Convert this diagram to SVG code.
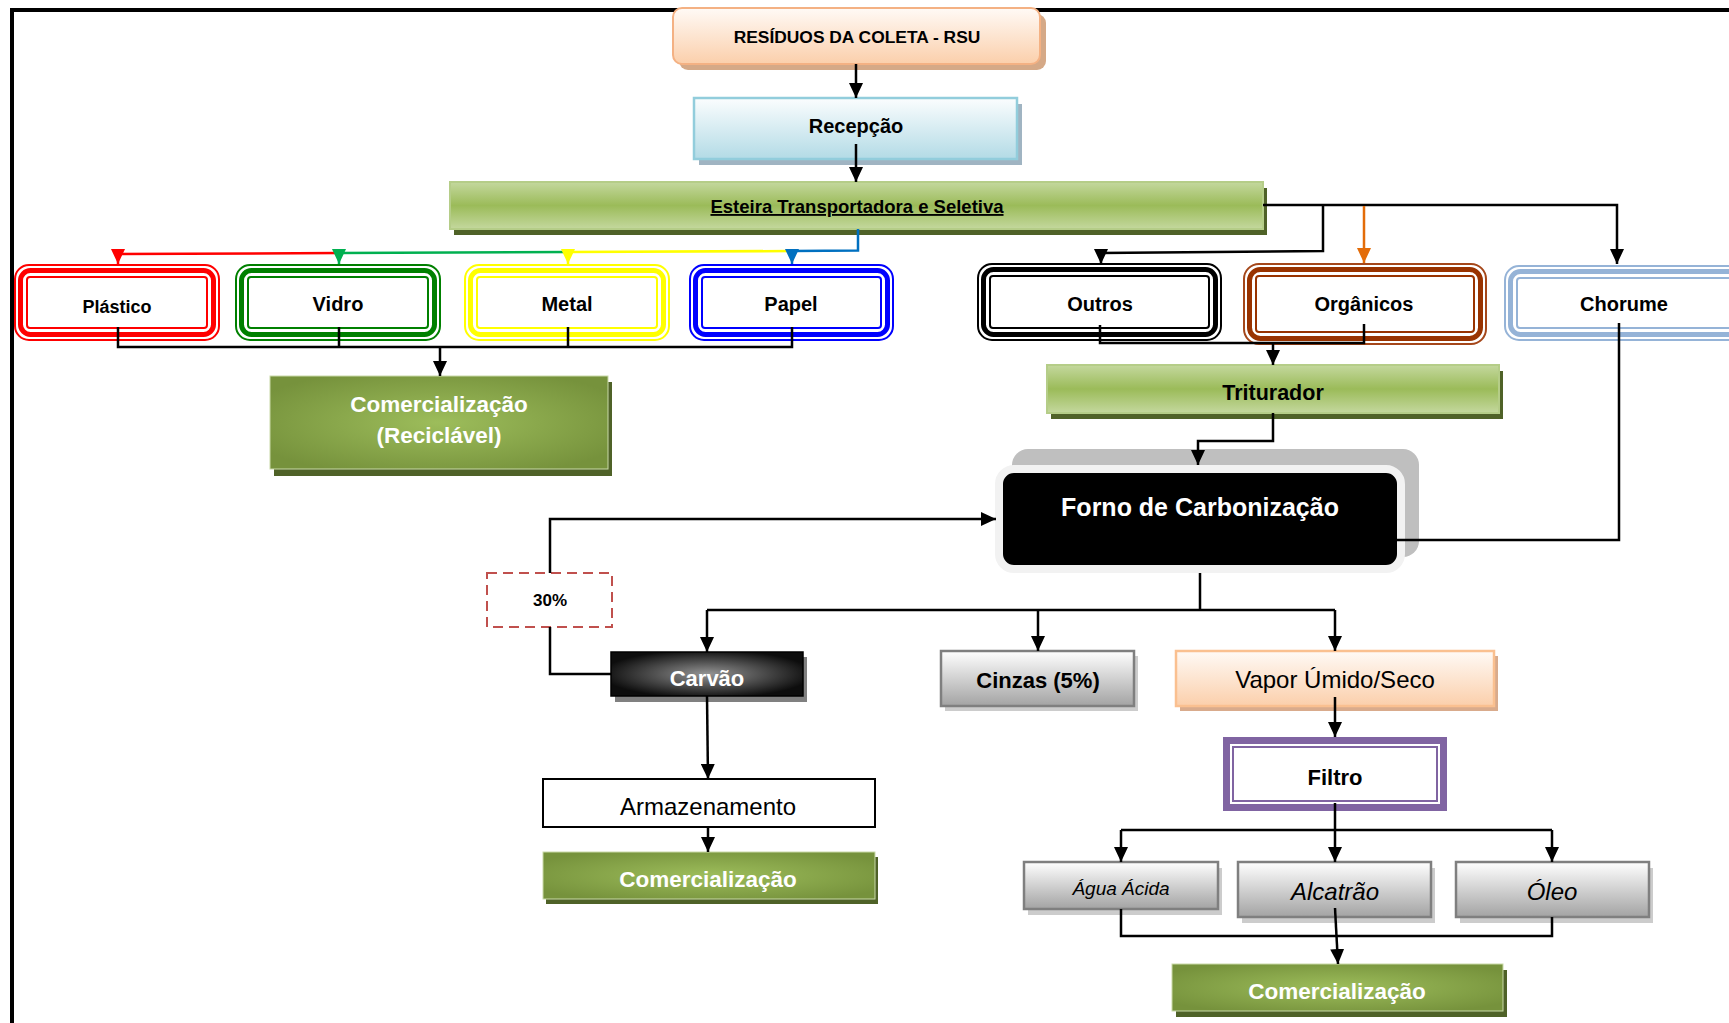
<svg xmlns="http://www.w3.org/2000/svg" width="1729" height="1023" viewBox="0 0 1729 1023">
<style>
text{font-family:"Liberation Sans",Arial,sans-serif;text-anchor:middle;fill:#000}
.b{font-weight:bold}
.w{fill:#fff;font-weight:bold}
.i{font-style:italic}
.ln{fill:none;stroke:#000;stroke-width:2.5}
.arr{fill:none;stroke:#000;stroke-width:2.5;marker-end:url(#ah)}
.grn{fill:url(#gGreen);stroke:#b5cd88;stroke-width:2}
.olv{fill:url(#gOlive);stroke:#c9d9a8;stroke-width:1}
.sh{fill:#4f6228}
.gry{fill:url(#gGray);stroke:#7f7f7f;stroke-width:2.5}
.gsh{fill:#cccccc}
</style>
<defs>
<marker id="ah" viewBox="0 0 15 14" refX="15" refY="7" markerWidth="15" markerHeight="14" markerUnits="userSpaceOnUse" orient="auto"><path d="M0,0 L15,7 L0,14 z" fill="#000"/></marker>
<marker id="ahR" viewBox="0 0 15 14" refX="15" refY="7" markerWidth="15" markerHeight="14" markerUnits="userSpaceOnUse" orient="auto"><path d="M0,0 L15,7 L0,14 z" fill="#ff0000"/></marker>
<marker id="ahG" viewBox="0 0 15 14" refX="15" refY="7" markerWidth="15" markerHeight="14" markerUnits="userSpaceOnUse" orient="auto"><path d="M0,0 L15,7 L0,14 z" fill="#00b050"/></marker>
<marker id="ahY" viewBox="0 0 15 14" refX="15" refY="7" markerWidth="15" markerHeight="14" markerUnits="userSpaceOnUse" orient="auto"><path d="M0,0 L15,7 L0,14 z" fill="#ffff00"/></marker>
<marker id="ahB" viewBox="0 0 15 14" refX="15" refY="7" markerWidth="15" markerHeight="14" markerUnits="userSpaceOnUse" orient="auto"><path d="M0,0 L15,7 L0,14 z" fill="#0070c0"/></marker>
<marker id="ahO" viewBox="0 0 15 14" refX="15" refY="7" markerWidth="15" markerHeight="14" markerUnits="userSpaceOnUse" orient="auto"><path d="M0,0 L15,7 L0,14 z" fill="#e36c09"/></marker>
<linearGradient id="gPeach" x1="0" y1="0" x2="0" y2="1"><stop offset="0" stop-color="#fffaf6"/><stop offset="1" stop-color="#fbcfab"/></linearGradient>
<linearGradient id="gBlue" x1="0" y1="0" x2="0" y2="1"><stop offset="0" stop-color="#fbfdfe"/><stop offset="1" stop-color="#b3dbe6"/></linearGradient>
<linearGradient id="gGreen" x1="0" y1="0" x2="0" y2="1"><stop offset="0" stop-color="#c4d89e"/><stop offset="0.5" stop-color="#9bbb59"/><stop offset="1" stop-color="#c4d89e"/></linearGradient>
<radialGradient id="gOlive" cx="0.5" cy="0.5" r="0.6"><stop offset="0" stop-color="#9dbd5b"/><stop offset="1" stop-color="#76923c"/></radialGradient>
<linearGradient id="gGray" x1="0" y1="0" x2="0" y2="1"><stop offset="0" stop-color="#ffffff"/><stop offset="1" stop-color="#a3a3a3"/></linearGradient>
<radialGradient id="gCoal" cx="0.5" cy="0.5" r="0.55"><stop offset="0" stop-color="#949494"/><stop offset="1" stop-color="#0d0d0d"/></radialGradient>
</defs>

<g id="frame"><path d="M12,1023 V10 H1729" fill="none" stroke="#000" stroke-width="4"/></g>

<g id="rsu">
<rect x="679" y="14" width="367" height="56" rx="9" fill="#d5a987"/>
<rect x="673" y="8" width="367" height="56" rx="9" fill="url(#gPeach)" stroke="#f4b183" stroke-width="2"/>
<text x="857" y="43" class="b" font-size="17.4">RESÍDUOS DA COLETA - RSU</text>
</g>

<g id="recepcao">
<rect x="699" y="104" width="323" height="61" fill="#a0b4c2"/>
<rect x="694" y="98" width="323" height="61" fill="url(#gBlue)" stroke="#92cddc" stroke-width="2.5"/>
<text x="856" y="133" class="b" font-size="20">Recepção</text>
</g>

<g id="esteira">
<rect x="454" y="188" width="813" height="47" class="sh"/>
<rect x="450" y="182" width="813" height="47" class="grn"/>
<text x="857" y="213" class="b" font-size="18.5" text-decoration="underline">Esteira Transportadora e Seletiva</text>
</g>

<g id="plastico">
<rect x="15" y="265" width="204" height="75" rx="14" fill="#fff" stroke="#ff0000" stroke-width="2"/>
<rect x="20.5" y="270.5" width="193" height="64" rx="10" fill="none" stroke="#ff0000" stroke-width="5"/>
<rect x="27" y="277" width="180" height="51" rx="3" fill="#fff" stroke="#ff0000" stroke-width="2"/>
<text x="117" y="313" class="b" font-size="18">Plástico</text>
</g>

<g id="vidro">
<rect x="236" y="265" width="204" height="75" rx="14" fill="#fff" stroke="#008000" stroke-width="2"/>
<rect x="241.5" y="270.5" width="193" height="64" rx="10" fill="none" stroke="#008000" stroke-width="5"/>
<rect x="248" y="277" width="180" height="51" rx="3" fill="#fff" stroke="#008000" stroke-width="2"/>
<text x="338" y="311" class="b" font-size="20">Vidro</text>
</g>

<g id="metal">
<rect x="465" y="265" width="204" height="75" rx="14" fill="#fff" stroke="#ffff00" stroke-width="2"/>
<rect x="470.5" y="270.5" width="193" height="64" rx="10" fill="none" stroke="#ffff00" stroke-width="5"/>
<rect x="477" y="277" width="180" height="51" rx="3" fill="#fff" stroke="#ffff00" stroke-width="2"/>
<text x="567" y="311" class="b" font-size="20">Metal</text>
</g>

<g id="papel">
<rect x="690" y="265" width="203" height="75" rx="14" fill="#fff" stroke="#0000ff" stroke-width="2"/>
<rect x="695.5" y="270.5" width="192" height="64" rx="10" fill="none" stroke="#0000ff" stroke-width="5"/>
<rect x="702" y="277" width="179" height="51" rx="3" fill="#fff" stroke="#0000ff" stroke-width="2"/>
<text x="791" y="311" class="b" font-size="20">Papel</text>
</g>

<g id="comercializacao-reciclavel">
<rect x="274" y="382" width="338" height="94" class="sh"/>
<rect x="270" y="376" width="338" height="93" class="olv"/>
<text x="439" y="412" class="w" font-size="22.5">Comercialização</text>
<text x="439" y="443" class="w" font-size="22.5">(Reciclável)</text>
</g>

<g id="outros">
<rect x="978" y="264" width="243" height="76" rx="14" fill="#fff" stroke="#000" stroke-width="2"/>
<rect x="983.5" y="269.5" width="232" height="65" rx="10" fill="none" stroke="#000" stroke-width="5"/>
<rect x="990" y="276" width="219" height="52" rx="3" fill="#fff" stroke="#000" stroke-width="2"/>
<text x="1100" y="311" class="b" font-size="20">Outros</text>
</g>

<g id="organicos">
<rect x="1244" y="264" width="242" height="80" rx="15" fill="#fff" stroke="#a5471a" stroke-width="2"/>
<rect x="1249.5" y="269.5" width="231" height="69" rx="11" fill="none" stroke="#993300" stroke-width="5"/>
<rect x="1256" y="276" width="218" height="56" rx="3" fill="#fff" stroke="#993300" stroke-width="2"/>
<text x="1364" y="311" class="b" font-size="20">Orgânicos</text>
</g>

<g id="chorume">
<rect x="1505" y="266" width="240" height="74" rx="14" fill="#fff" stroke="#95b3d7" stroke-width="2"/>
<rect x="1510.5" y="271.5" width="229" height="63" rx="10" fill="none" stroke="#95b3d7" stroke-width="5"/>
<rect x="1517" y="278" width="216" height="50" rx="3" fill="#fff" stroke="#95b3d7" stroke-width="2"/>
<text x="1624" y="311" class="b" font-size="20">Chorume</text>
</g>

<g id="triturador">
<rect x="1051" y="371" width="452" height="48" class="sh"/>
<rect x="1047" y="365" width="452" height="48" class="grn"/>
<text x="1273" y="400" class="b" font-size="21.5">Triturador</text>
</g>

<g id="forno">
<rect x="1012" y="449" width="407" height="108" rx="16" fill="#bfbfbf"/>
<rect x="999" y="469" width="402" height="100" rx="15" fill="#000" stroke="#f2f2f2" stroke-width="8"/>
<text x="1200" y="516" class="w" font-size="25">Forno de Carbonização</text>
</g>

<g id="pct30">
<rect x="487" y="573" width="125" height="54" fill="#fff" stroke="#c0504d" stroke-width="2" stroke-dasharray="10,6"/>
<text x="550" y="606" class="b" font-size="17">30%</text>
</g>

<g id="carvao">
<rect x="615" y="657" width="192" height="45" fill="#808080"/>
<rect x="611" y="652" width="192" height="44" fill="url(#gCoal)" stroke="#000" stroke-width="1.5"/>
<text x="707" y="686" class="w" font-size="22">Carvão</text>
</g>

<g id="cinzas">
<rect x="945" y="656" width="193" height="55" class="gsh"/>
<rect x="941" y="651" width="193" height="55" class="gry"/>
<text x="1038" y="688" class="b" font-size="22">Cinzas (5%)</text>
</g>

<g id="vapor">
<rect x="1180" y="656" width="318" height="55" fill="#d9ab8c"/>
<rect x="1176" y="651" width="318" height="55" fill="url(#gPeach)" stroke="#fac090" stroke-width="2.5"/>
<text x="1335" y="688" font-size="24">Vapor Úmido/Seco</text>
</g>

<g id="filtro">
<rect x="1223" y="737" width="224" height="74" fill="#8064a2"/>
<rect x="1230" y="744" width="210" height="60" fill="#fff"/>
<rect x="1233" y="747" width="204" height="54" fill="#fff" stroke="#8064a2" stroke-width="2"/>
<text x="1335" y="785" class="b" font-size="22">Filtro</text>
</g>

<g id="agua-acida">
<rect x="1028" y="868" width="194" height="47" class="gsh"/>
<rect x="1024" y="862" width="194" height="47" class="gry"/>
<text x="1121" y="895" class="i" font-size="19">Água Ácida</text>
</g>

<g id="alcatrao">
<rect x="1242" y="868" width="193" height="55" class="gsh"/>
<rect x="1238" y="862" width="193" height="55" class="gry"/>
<text x="1335" y="900" class="i" font-size="24">Alcatrão</text>
</g>

<g id="oleo">
<rect x="1460" y="868" width="193" height="55" class="gsh"/>
<rect x="1456" y="862" width="193" height="55" class="gry"/>
<text x="1552" y="900" class="i" font-size="24">Óleo</text>
</g>

<g id="comercializacao-oleos">
<rect x="1176" y="970" width="331" height="47" class="sh"/>
<rect x="1172" y="964" width="331" height="47" class="olv"/>
<text x="1337" y="999" class="w" font-size="22.5">Comercialização</text>
</g>

<g id="armazenamento">
<rect x="543" y="779" width="332" height="48" fill="#fff" stroke="#000" stroke-width="2"/>
<text x="708" y="815" font-size="24">Armazenamento</text>
</g>

<g id="comercializacao-carvao">
<rect x="546" y="857" width="332" height="47" class="sh"/>
<rect x="543" y="852" width="332" height="47" class="olv"/>
<text x="708" y="887" class="w" font-size="22.5">Comercialização</text>
</g>

<g id="connectors">
<path class="arr" d="M856,64 V98"/>
<path class="arr" d="M856,144 V182"/>
<path d="M858,229 V250.5 L792,251" fill="none" stroke="#0070c0" stroke-width="2.5"/>
<path d="M792,251 L568,252" fill="none" stroke="#ffff00" stroke-width="2.5"/>
<path d="M568,252 L339,253" fill="none" stroke="#00b050" stroke-width="2.5"/>
<path d="M339,253 L118,254" fill="none" stroke="#ff0000" stroke-width="2.5"/>
<path d="M118,254 V264" fill="none" stroke="#ff0000" stroke-width="2.5" marker-end="url(#ahR)"/>
<path d="M339,253 V264" fill="none" stroke="#00b050" stroke-width="2.5" marker-end="url(#ahG)"/>
<path d="M568,252 V264" fill="none" stroke="#ffff00" stroke-width="2.5" marker-end="url(#ahY)"/>
<path d="M792,251 V264" fill="none" stroke="#0070c0" stroke-width="2.5" marker-end="url(#ahB)"/>
<path class="arr" d="M1263,205 H1617 V264"/>
<path class="arr" d="M1323,205 V251 L1101,253 V264"/>
<path d="M1364,206 V263" fill="none" stroke="#e36c09" stroke-width="2.5" marker-end="url(#ahO)"/>
<path class="ln" d="M118,327 V347 H792 V327 M339,327 V347 M568,327 V347"/>
<path class="arr" d="M440,347 V376"/>
<path class="ln" d="M1100,325 V343 H1364 V324"/>
<path class="arr" d="M1273,343 V365"/>
<path class="arr" d="M1273,413 V441 H1198 V465"/>
<path class="ln" d="M1619,323 V540 H1397"/>
<path class="ln" d="M1200,573 V610 M707,610 H1335"/>
<path class="arr" d="M707,610 V652"/>
<path class="arr" d="M1038,610 V651"/>
<path class="arr" d="M1335,610 V651"/>
<path class="ln" d="M611,674 H550 V627"/>
<path class="arr" d="M550,573 V519 H996"/>
<path class="arr" d="M707,696 L708,779"/>
<path class="arr" d="M708,827 V852"/>
<path class="arr" d="M1335,697 V737"/>
<path class="arr" d="M1335,803 V862"/>
<path class="ln" d="M1121,830 H1552"/>
<path class="arr" d="M1121,830 V862"/>
<path class="arr" d="M1552,830 V862"/>
<path class="ln" d="M1121,909 V936 H1552 V917"/>
<path class="arr" d="M1335,908 L1338,964"/>
</g>
</svg>
